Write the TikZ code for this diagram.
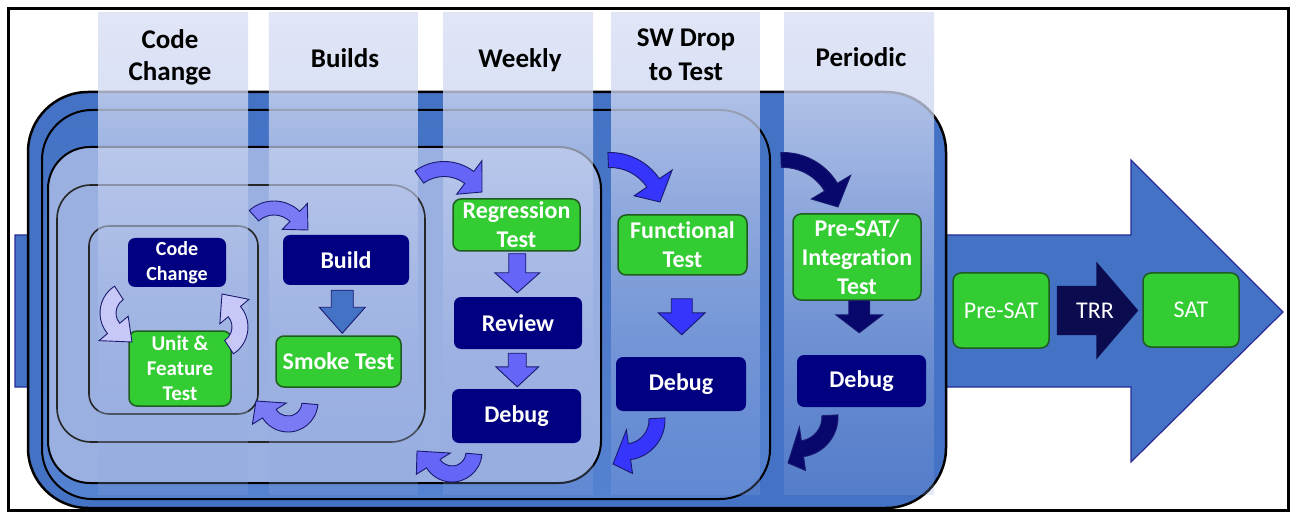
\documentclass[tikz,border=0pt]{standalone}
\usepackage{fontspec}
\setmainfont{Carlito}[Ligatures=NoCommon]
\usetikzlibrary{calc,fadings}
\definecolor{bluemid}{HTML}{4472C4}
\definecolor{boxtwobot}{HTML}{5582D0}
\definecolor{lightfill}{HTML}{9AB0E1}
\definecolor{navybox}{HTML}{000080}
\definecolor{greenbox}{HTML}{33CC33}
\definecolor{greenline}{HTML}{1F5C1F}
\definecolor{bandtop}{HTML}{DDE3F6}
\definecolor{bandbot}{HTML}{8FA6DF}
\definecolor{lavarrow}{HTML}{C8C8F8}
\definecolor{violetarrow}{HTML}{7A7AF5}
\definecolor{weekarrow}{HTML}{6565F7}
\definecolor{swarrow}{HTML}{3535FB}
\definecolor{perarrow}{HTML}{07076C}
\definecolor{arrline}{HTML}{1A1A70}
\definecolor{trrfill}{HTML}{0B0B4F}
\definecolor{bigline}{HTML}{2A2A9A}
\tikzfading[name=bandfade, top color=transparent!12, bottom color=transparent!78]
% curved block arrow: style, cx, cy, r, start angle, head angle, tip, body half width, head half width
\newcommand\carr[9]{%
  \pgfmathsetmacro\cRo{#4+#8}\pgfmathsetmacro\cRi{#4-#8}%
  \pgfmathsetmacro\cHo{#4+#9}\pgfmathsetmacro\cHi{#4-#9}%
  \path[#1] ([shift={(#2,#3)}]#5:\cRo) arc[start angle=#5, end angle=#6, radius=\cRo]
    -- ([shift={(#2,#3)}]#6:\cHo) -- #7 -- ([shift={(#2,#3)}]#6:\cHi)
    -- ([shift={(#2,#3)}]#6:\cRi) arc[start angle=#6, end angle=#5, radius=\cRi] -- cycle;}
% straight down block arrow between two nodes
\newcommand\darr[8]{%
  \path[#1] let \p1=(#2.south), \p2=(#3.north), \n1={(\x1+\x2)/2},
      \n2={\y1-#4pt}, \n3={\y2+#5pt}, \n4={\y2+#5pt+#8pt} in
    (\n1-#6pt,\n2) -- (\n1+#6pt,\n2) -- (\n1+#6pt,\n4) -- (\n1+#7pt,\n4)
    -- (\n1,\n3) -- (\n1-#7pt,\n4) -- (\n1-#6pt,\n4) -- cycle;}
\begin{document}
\begin{tikzpicture}[x=1pt,y=-1pt,
  band/.style={top color=bandtop, bottom color=bandbot, path fading=bandfade},
  lab/.style={font=\bfseries\fontsize{27}{30}\selectfont, align=center, inner sep=0pt},
  navyb/.style={fill=navybox, rounded corners=7pt, text=white, align=center, inner sep=0pt,
    font=\bfseries\fontsize{24}{29}\selectfont},
  greenb/.style={fill=greenbox, draw=greenline, line width=1.5pt, rounded corners=8pt, text=white,
    align=center, inner sep=0pt, font=\bfseries\fontsize{24}{29}\selectfont},
  greenr/.style={greenb, font=\fontsize{24}{29}\selectfont},
  small/.style={font=\bfseries\fontsize{20}{25}\selectfont},
  blkarr/.style={fill=#1, draw=arrline, line width=0.9pt, line join=miter},
]
\useasboundingbox (0,0) rectangle (1291,513);
\fill[white] (0,0) rectangle (1291,513);
% big arrow
\draw[fill=bluemid, draw=bigline, line width=1.2pt]
  (15,235) -- (1131,235) -- (1131,160) -- (1283,312) -- (1131,462) -- (1131,387) -- (15,387) -- cycle;
% nested process boxes
\draw[fill=bluemid, line width=2.5pt, rounded corners=60pt] (28,92) rectangle (946,508);
\shadedraw[top color=bluemid, bottom color=boxtwobot, line width=2pt, rounded corners=50pt] (42,110) rectangle (770,499);
\draw[fill=lightfill, line width=2pt, rounded corners=42pt] (48,147) rectangle (601,483);
\draw[draw=black!85, line width=1.6pt, rounded corners=34pt] (57,185) rectangle (425,442);
\draw[draw=black!85, line width=1.6pt, rounded corners=20pt] (89,226) rectangle (258,414);
% column bands
\foreach \xa/\xb in {98/248, 269/418, 443/593, 611/760, 784/934}
  \shade[band] (\xa,13) rectangle (\xb,495);
% column headings
\node[lab, font=\bfseries\fontsize{27}{32}\selectfont] (hcc) at (170,57) {Code\\Change};
\node[lab] (hbu) at (345,58) {Builds};
\node[lab] (hwe) at (520,60) {Weekly};
\node[lab, font=\bfseries\fontsize{27}{34}\selectfont] (hsw) at (686,55) {SW Drop\\to Test};
\node[lab] (hpe) at (861,57) {Periodic};
% process nodes
\node[navyb, small, minimum width=98, minimum height=49] (cc) at (177,262.5) {Code\\Change};
\node[greenb, font=\bfseries\fontsize{21}{25}\selectfont, minimum width=102, minimum height=75] (uft) at (180,368.5) {Unit \&\\Feature\\Test};
\node[navyb, minimum width=126, minimum height=50] (build) at (346,260) {Build};
\node[greenb, minimum width=125, minimum height=51] (smoke) at (338.5,361.5) {Smoke Test};
\node[greenb, minimum width=127, minimum height=52] (regr) at (516.5,225) {Regression\\Test};
\node[navyb, minimum width=128, minimum height=52] (review) at (518,323) {Review};
\node[navyb, minimum width=129, minimum height=54] (dbgw) at (516.5,416) {Debug};
\node[greenb, minimum width=129, minimum height=60] (func) at (682.5,245) {Functional\\Test};
\node[navyb, minimum width=130, minimum height=54] (dbgs) at (681,384) {Debug};
\node[greenb, minimum width=128, minimum height=86] (psi) at (857,257) {Pre-SAT/\\Integration\\Test};
\node[navyb, minimum width=129, minimum height=52] (dbgp) at (861.5,381) {Debug};
\node[greenr, minimum width=96, minimum height=75] (presat) at (1001,310.5) {Pre-SAT};
\node[greenr, minimum width=96, minimum height=74] (sat) at (1191,310) {SAT};
% TRR arrow between Pre-SAT and SAT
\path[fill=trrfill] let \p1=(presat.east), \p2=(sat.west) in
  (\x1+7pt,\y1+24.5pt) -- (\x2-46pt,\y1+24.5pt) -- (\x2-46pt,\y1+49pt) -- (\x2-4pt,\y1)
  -- (\x2-46pt,\y1-49pt) -- (\x2-46pt,\y1-24.5pt) -- (\x1+7pt,\y1-24.5pt) -- cycle;
\node[text=white, font=\fontsize{24}{29}\selectfont, inner sep=0pt] (trr) at (1095,311) {TRR};
% straight down arrows
\darr{blkarr=bluemid}{build}{smoke}{5}{2}{11}{23}{26}
\darr{blkarr=weekarrow}{regr}{review}{2}{4}{8.5}{22.5}{20}
\darr{blkarr=weekarrow}{review}{dbgw}{4}{2}{9}{21.5}{20}
\darr{blkarr=swarrow}{func}{dbgs}{23}{22}{10.5}{23.5}{22}
\darr{blkarr=perarrow}{psi}{dbgp}{0}{22}{10.5}{23.5}{18}
% curved arrows
\carr{blkarr=lavarrow}{132}{313}{24}{237}{140}{(132,342)}{8}{19}
\carr{blkarr=lavarrow}{216}{327}{24}{57}{-40}{(222,294)}{8}{19}
\carr{blkarr=violetarrow}{274}{238}{30}{228}{314}{(308,230)}{7}{18}
\carr{blkarr=violetarrow}{288}{402}{22}{5}{148}{(256,401)}{8}{20}
\carr{blkarr=weekarrow}{444}{211}{42}{234}{307}{(482,192)}{7.5}{21}
\carr{blkarr=weekarrow}{452}{452}{22}{5}{148}{(417,451)}{8}{20}
\carr{blkarr=swarrow}{610}{212}{52}{268}{326}{(660,202)}{7.5}{23}
\carr{blkarr=swarrow}{625}{420}{32}{-3}{82}{(613,464)}{8}{22}
\carr{blkarr=perarrow}{783}{216}{56}{268}{329}{(838,207)}{7.5}{23}
\carr{blkarr=perarrow}{798}{417}{32}{-3}{82}{(788,463)}{8}{22}
% frame
\draw[line width=3pt] (8.5,8.5) rectangle (1288,510.5);
\end{tikzpicture}
\end{document}
